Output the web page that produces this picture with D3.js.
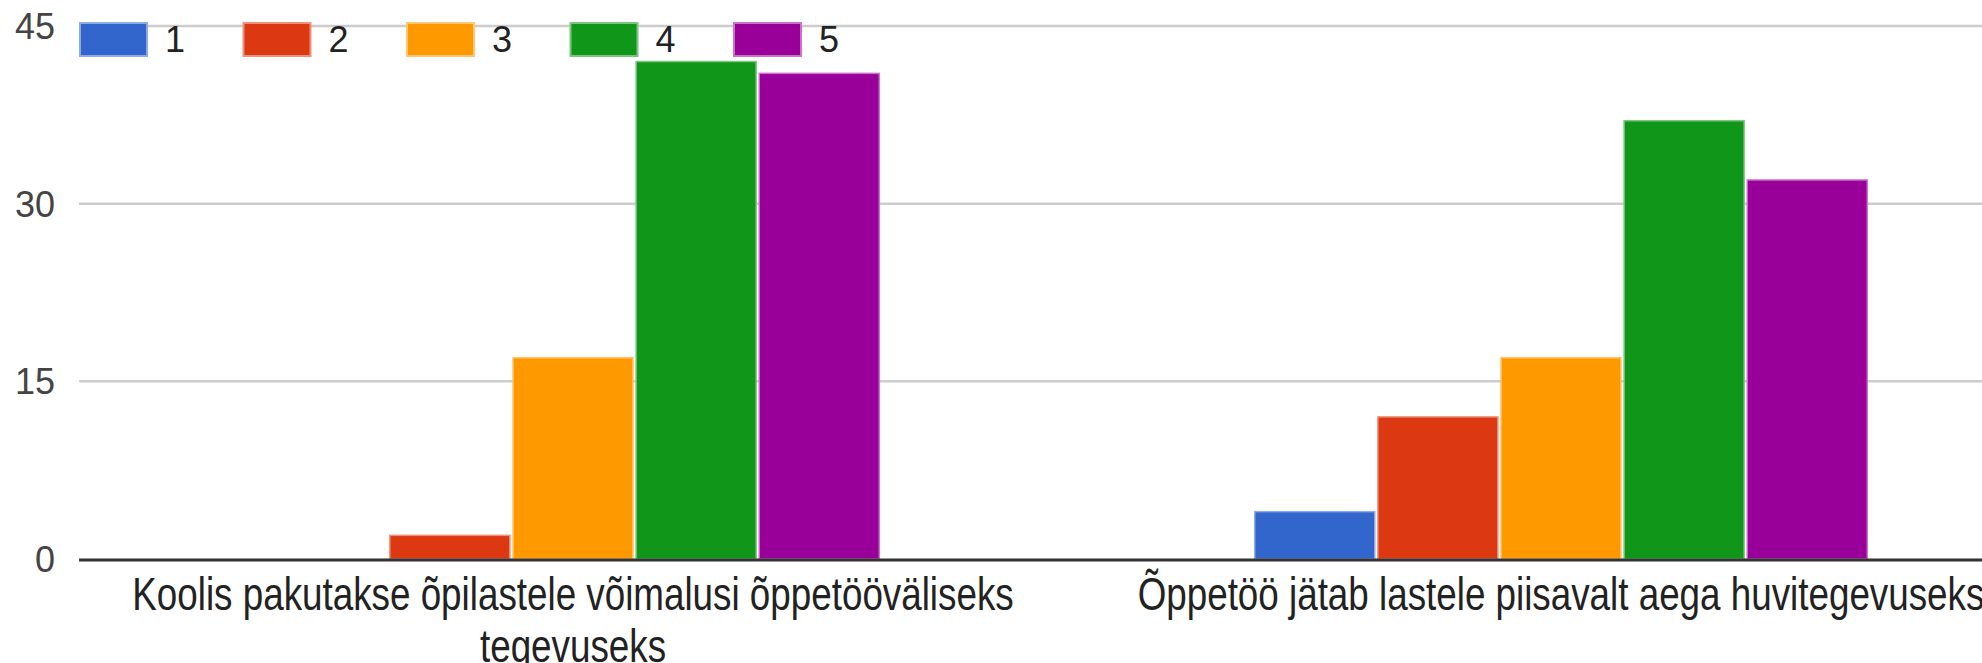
<!DOCTYPE html>
<html>
<head>
<meta charset="utf-8">
<script src="https://cdnjs.cloudflare.com/ajax/libs/d3/7.8.5/d3.min.js"></script>
<style>
  body { margin: 0; background: #fff; }
  text { font-family: "Liberation Sans", Arial, sans-serif; }
</style>
</head>
<body>
<div id="chart"></div>
<script>
var categories = ["Koolis pakutakse õpilastele võimalusi õppetööväliseks tegevuseks",
                  "Õppetöö jätab lastele piisavalt aega huvitegevuseks"];
var seriesNames = ["1", "2", "3", "4", "5"];
var seriesColors = ["#3366cc", "#dc3912", "#ff9900", "#109618", "#990099"];
var values1 = [0, 2, 17, 42, 41];
var values2 = [4, 12, 17, 37, 32];
var yTicks = [0, 15, 30, 45];

var data = [
  {cat: categories[0], vals: values1},
  {cat: categories[1], vals: values2}
];

var W = 1982, H = 663;
var plotLeft = 79, plotRight = 2055, plotTop = 26, base = 559;
var labelScale = 0.8;

var svg = d3.select("#chart").append("svg")
  .attr("width", W).attr("height", H);

var x0 = d3.scaleBand().domain(categories).range([plotLeft, plotRight])
  .paddingInner(0.38).paddingOuter(0.19);
var x1 = d3.scaleBand().domain(seriesNames).range([0, x0.bandwidth()])
  .paddingInner(0.025);
var y = d3.scaleLinear().domain([0, 45]).range([base, plotTop]);
var color = d3.scaleOrdinal().domain(seriesNames).range(seriesColors);

function light(c) { return d3.interpolateRgb(c, "#fff")(0.45); }

// gridlines
svg.append("g").selectAll("line")
  .data(yTicks.filter(function(d){ return d > 0; }))
  .enter().append("line")
  .attr("x1", plotLeft).attr("x2", W)
  .attr("y1", function(d){ return y(d); })
  .attr("y2", function(d){ return y(d); })
  .attr("stroke", "#cccccc").attr("stroke-width", 2.5);

// tick labels
svg.append("g").selectAll("text")
  .data(yTicks).enter().append("text")
  .attr("x", 55)
  .attr("y", function(d){ return y(d); })
  .attr("dy", "0.36em")
  .attr("text-anchor", "end")
  .style("font-size", "36px")
  .style("fill", "#444")
  .text(function(d){ return d; });

// bars
var groups = svg.append("g").selectAll("g")
  .data(data).enter().append("g")
  .attr("transform", function(d){ return "translate(" + x0(d.cat) + ",0)"; });

groups.selectAll("rect")
  .data(function(d){ return d.vals.map(function(v, i){ return {key: seriesNames[i], value: v}; }); })
  .enter().append("rect")
  .filter(function(d){ return d.value > 0; })
  .attr("x", function(d){ return x1(d.key); })
  .attr("width", x1.bandwidth())
  .attr("y", function(d){ return y(d.value); })
  .attr("height", function(d){ return base - y(d.value); })
  .attr("fill", function(d){ return color(d.key); })
  .attr("stroke", function(d){ return light(color(d.key)); })
  .attr("stroke-width", 1.5);

// baseline
svg.append("line")
  .attr("x1", plotLeft).attr("x2", W)
  .attr("y1", base + 1).attr("y2", base + 1)
  .attr("stroke", "#333").attr("stroke-width", 3);

// category labels, wrapped to the band step
var catG = svg.append("g").selectAll("g")
  .data(categories).enter().append("g")
  .attr("transform", function(d){
    return "translate(" + (x0(d) + x0.bandwidth() / 2) + ",610) scale(" + labelScale + ",1)";
  });

catG.each(function(d) {
  var g = d3.select(this);
  var maxW = x0.step() / labelScale;
  var words = d.split(" "), line = [], lineNo = 0;
  var t = g.append("text").attr("text-anchor", "middle")
    .style("font-size", "46px").style("fill", "#222").attr("y", 0);
  words.forEach(function(w) {
    line.push(w);
    t.text(line.join(" "));
    if (t.node().getComputedTextLength() > maxW && line.length > 1) {
      line.pop();
      t.text(line.join(" "));
      line = [w];
      lineNo++;
      t = g.append("text").attr("text-anchor", "middle")
        .style("font-size", "46px").style("fill", "#222")
        .attr("y", lineNo * 52).text(w);
    }
  });
});

// legend
var legend = svg.append("g").selectAll("g")
  .data(seriesNames).enter().append("g")
  .attr("transform", function(d, i){ return "translate(" + (79 + i * 163.5) + ",22)"; });

legend.append("rect")
  .attr("x", 1).attr("y", 1)
  .attr("width", 67).attr("height", 33)
  .attr("fill", function(d){ return color(d); })
  .attr("stroke", function(d){ return light(color(d)); })
  .attr("stroke-width", 2);

legend.append("text")
  .attr("x", 86).attr("y", 17.5).attr("dy", "0.36em")
  .style("font-size", "36px").style("fill", "#222")
  .text(function(d){ return d; });
</script>
</body>
</html>
